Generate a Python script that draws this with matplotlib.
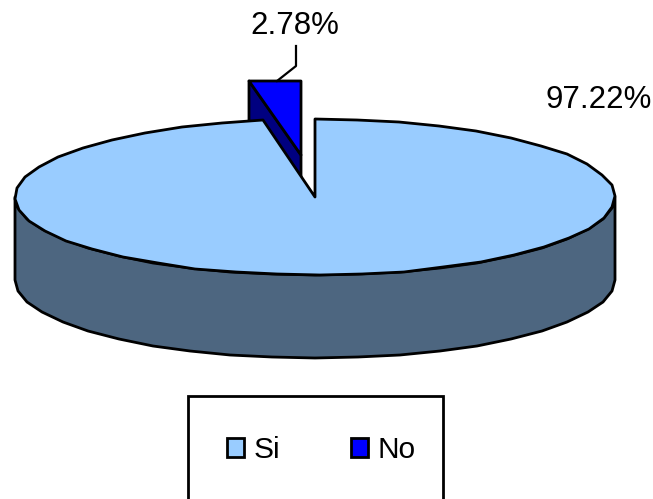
import numpy as np
import matplotlib
matplotlib.use("Agg")
import matplotlib.pyplot as plt
from matplotlib.patches import Polygon, Rectangle

plt.rcParams['font.family'] = ['Liberation Sans', 'DejaVu Sans']

categories = ['Si', 'No']
values = [97.22, 2.78]
value_labels = ['97.22%', '2.78%']

LIGHT = '#99ccff'
SIDE = '#4d6680'
BLUE = '#0000ff'
NAVY = '#000080'

# pie geometry in pixels
cx, cy = 315, 197
rx, ry = 300, 78
depth = 83
# how far the small slice is pulled out
dx, dy = -14, -39


def rim(t0, t1, step=8.0):
    """points on the top ellipse, t in degrees clockwise from 12 o'clock"""
    n = max(2, int(abs(t1-t0)/step)+1)
    t = np.radians(np.linspace(t0, t1, n))
    return np.column_stack((np.round(cx+rx*np.sin(t)), np.round(cy-ry*np.cos(t))))


def add_poly(ax, pts, color, zorder):
    ax.add_patch(Polygon(pts, closed=True, fc=color, ec='k', lw=2.0,
                         joinstyle='round', zorder=zorder))


fig = plt.figure(figsize=(6.53, 4.99), dpi=100)
ax = fig.add_axes([0, 0, 1, 1])
ax.set_xlim(0, 653)
ax.set_ylim(499, 0)
ax.axis('off')

angle_si = 360*values[0]/sum(values)

# small slice sits behind, the big one covers the lower part of its wall
arc = rim(angle_si, 360)+[dx, dy]
arc[:, 1] = arc[0, 1]  # outer edge reads flat at this size
apex = np.array([cx+dx, cy+dy-3])
p0 = arc[0]
no_wall = np.array([p0, apex, apex+[0, depth], p0+[0, depth]])
add_poly(ax, no_wall, NAVY, 1)
add_poly(ax, np.vstack((apex, arc)), BLUE, 2)

# front wall of the big slice
front = rim(90, 270)
wall = np.vstack((front, (front+[0, depth])[::-1]))
add_poly(ax, wall, SIDE, 3)

si_top = np.vstack(([cx, cy], rim(0, angle_si)))
add_poly(ax, si_top, LIGHT, 4)

# value labels and leader line
ax.text(598.5, 100, value_labels[0], fontsize=22.5, ha='center', va='center', zorder=6)
ax.text(295, 25.5, value_labels[1], fontsize=22.5, ha='center', va='center', zorder=6)
ax.plot([296, 296, 277], [46, 66, 81], color='k', lw=1.6, zorder=6)

# legend box runs off the bottom of the picture
ax.add_patch(Rectangle((188, 396), 255, 120, fc='white', ec='k', lw=2.0, zorder=5))
handles = [Rectangle((0, 0), 1, 1, fc=c, ec='k', lw=2.0) for c in (LIGHT, BLUE)]
ax.legend(handles, categories, loc='center', bbox_to_anchor=(321.5/653, 1-450/499),
          ncol=2, frameon=False, fontsize=21.5, handlelength=0.56, handleheight=0.56,
          handletextpad=0.33, columnspacing=2.35, borderpad=0).set_zorder(7)

fig.savefig('out.png', dpi=100)
